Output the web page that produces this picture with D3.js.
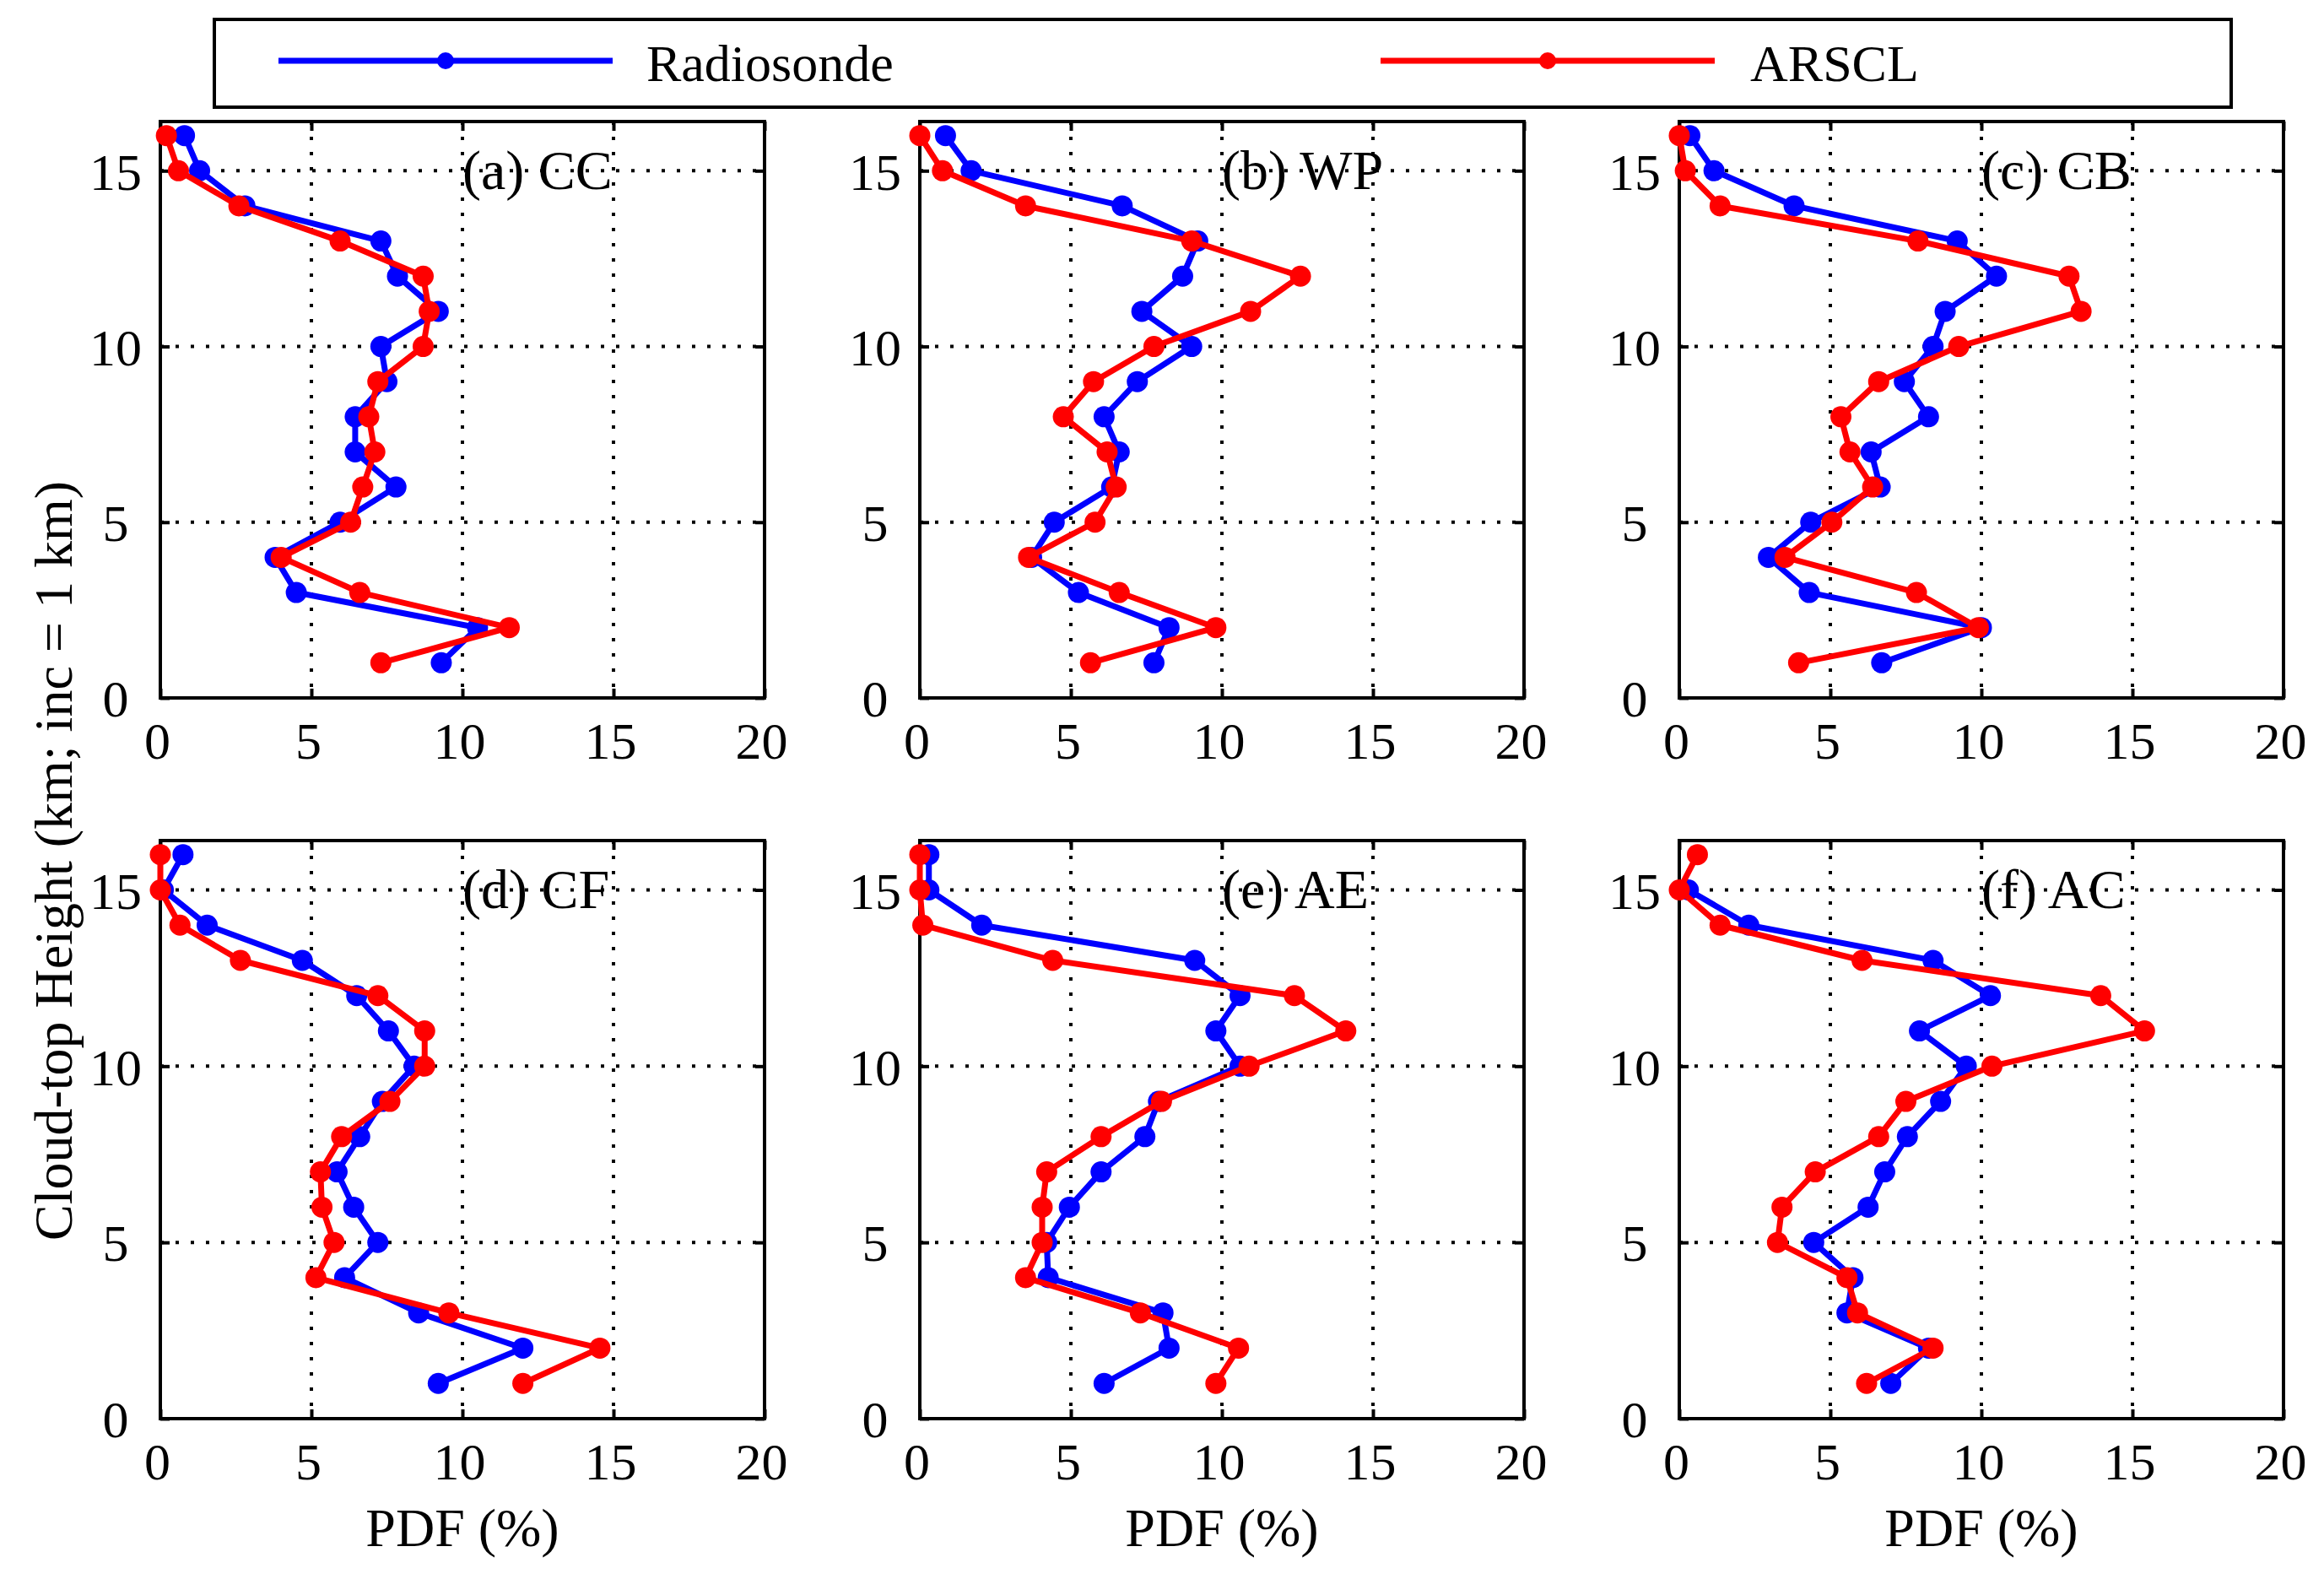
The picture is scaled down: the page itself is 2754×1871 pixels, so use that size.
<!DOCTYPE html>
<html><head><meta charset="utf-8">
<script src="https://cdn.jsdelivr.net/npm/d3@7"></script>
<style>
html,body{margin:0;padding:0;background:#fff;}
svg text{font-family:"Liberation Serif","Times New Roman",serif;fill:#000;}
</style></head>
<body>
<svg id="chart" width="2754" height="1871"></svg>
<script>
// ---- data ----
const heights = [16,15,14,13,12,11,10,9,8,7,6,5,4,3,2,1];
const panelTitles = ["(a) CC","(b) WP","(c) CB","(d) CF","(e) AE","(f) AC"];
const seriesNames = ["Radiosonde","ARSCL"];
const radiosondeA = [0.8,1.3,2.8,7.3,7.85,9.2,7.3,7.5,6.45,6.45,7.8,5.95,3.8,4.5,10.5,9.3];
const arsclA      = [0.2,0.6,2.6,5.95,8.7,8.9,8.7,7.2,6.9,7.1,6.7,6.3,4.0,6.6,11.55,7.3];
const radiosondeB = [0.85,1.7,6.7,9.2,8.7,7.35,9.0,7.2,6.1,6.6,6.35,4.45,3.7,5.25,8.25,7.75];
const arsclB      = [0.0,0.75,3.5,9.0,12.6,10.95,7.75,5.75,4.75,6.2,6.5,5.8,3.6,6.6,9.8,5.65];
const radiosondeC = [0.35,1.15,3.8,9.2,10.5,8.8,8.4,7.45,8.25,6.35,6.65,4.35,2.95,4.3,10.0,6.7];
const arsclC      = [0.0,0.2,1.35,7.9,12.9,13.3,9.25,6.6,5.35,5.65,6.4,5.05,3.5,7.85,9.9,3.95];
const radiosondeD = [0.75,0.1,1.55,4.7,6.5,7.55,8.4,7.35,6.6,5.85,6.4,7.2,6.1,8.55,12.0,9.2];
const arsclD      = [0.0,0.0,0.65,2.65,7.2,8.75,8.75,7.6,6.0,5.3,5.35,5.75,5.15,9.55,14.55,12.0];
const radiosondeE = [0.3,0.3,2.05,9.1,10.6,9.8,10.6,7.9,7.45,6.0,4.95,4.2,4.25,8.05,8.25,6.1];
const arsclE      = [0.0,0.0,0.1,4.4,12.4,14.1,10.9,8.0,6.0,4.2,4.05,4.05,3.5,7.3,10.55,9.8];
const radiosondeF = [null,0.3,2.3,8.4,10.3,7.95,9.5,8.65,7.55,6.8,6.25,4.45,5.75,5.55,8.25,7.0];
const arsclF      = [0.6,0.0,1.35,6.05,13.95,15.4,10.35,7.5,6.6,4.5,3.4,3.25,5.55,5.9,8.4,6.2];
const xTicks = [0,5,10,15,20];
const yTicks = [0,5,10,15];
const xLabel = "PDF (%)";
const yLabel = "Cloud-top Height (km; inc = 1 km)";

const radiosondeAll = [radiosondeA,radiosondeB,radiosondeC,radiosondeD,radiosondeE,radiosondeF];
const arsclAll = [arsclA,arsclB,arsclC,arsclD,arsclE,arsclF];
const colors = ["#0000ff","#ff0000"];

// ---- layout ----
const colX = [[190,906],[1090,1806],[1990,2706]];
const rowY = [[144,827],[996,1681]];

const svg = d3.select("#chart");

panelTitles.forEach((title,i)=>{
  const col = i%3, row = Math.floor(i/3);
  const x = d3.scaleLinear().domain([0,20]).range(colX[col]);
  const y = d3.scaleLinear().domain([0,16.4]).range([rowY[row][1],rowY[row][0]]);
  const g = svg.append("g");
  const [x0,x1] = x.range(), [y0,y1] = [y.range()[1], y.range()[0]];

  // grid
  g.selectAll(".gx").data(xTicks.filter(t=>t>0&&t<20)).join("line")
    .attr("x1",d=>x(d)).attr("x2",d=>x(d)).attr("y1",y0).attr("y2",y1)
    .attr("stroke","#000").attr("stroke-width",4).attr("stroke-dasharray","4,14");
  g.selectAll(".gy").data(yTicks.filter(t=>t>0)).join("line")
    .attr("x1",x0).attr("x2",x1).attr("y1",d=>y(d)).attr("y2",d=>y(d))
    .attr("stroke","#000").attr("stroke-width",4).attr("stroke-dasharray","4,14");

  // axes
  const ax = g.append("g").attr("transform",`translate(0,${y1})`)
    .call(d3.axisBottom(x).tickValues(xTicks).tickSizeInner(-11).tickSizeOuter(0).tickPadding(28));
  const axT = g.append("g").attr("transform",`translate(0,${y0})`)
    .call(d3.axisTop(x).tickValues(xTicks).tickSizeInner(-11).tickSizeOuter(0).tickFormat(""));
  const ay = g.append("g").attr("transform",`translate(${x0},0)`)
    .call(d3.axisLeft(y).tickValues(yTicks).tickSizeInner(-11).tickSizeOuter(0).tickPadding(53));
  const ayR = g.append("g").attr("transform",`translate(${x1},0)`)
    .call(d3.axisRight(y).tickValues(yTicks).tickSizeInner(-11).tickSizeOuter(0).tickFormat(""));
  [ax,axT,ay,ayR].forEach(a=>{
    a.select(".domain").remove();
    a.selectAll("line").attr("stroke","#000").attr("stroke-width",4);
  });
  ax.selectAll("text").attr("font-size",62).attr("dy","0.71em").attr("dx",-4)
    .style("font-family","Liberation Serif");
  ay.selectAll("text").attr("font-size",62).attr("text-anchor","middle").attr("dy","0.35em")
    .style("font-family","Liberation Serif");

  // frame
  g.append("rect").attr("x",x0).attr("y",y0).attr("width",x1-x0).attr("height",y1-y0)
    .attr("fill","none").attr("stroke","#000").attr("stroke-width",4);

  // series
  [radiosondeAll[i],arsclAll[i]].forEach((vals,s)=>{
    const pts = heights.map((h,k)=>({h,v:vals[k]})).filter(p=>p.v!==null);
    const line = d3.line().x(p=>x(p.v)).y(p=>y(p.h));
    g.append("path").datum(pts).attr("d",line).attr("fill","none")
      .attr("stroke",colors[s]).attr("stroke-width",7).attr("stroke-linejoin","round");
    g.selectAll(null).data(pts).join("circle")
      .attr("cx",p=>x(p.v)).attr("cy",p=>y(p.h)).attr("r",12.5).attr("fill",colors[s]);
  });

  // title
  g.append("text").attr("x",x(10)).attr("y",y(15)).attr("dy","0.33em")
    .attr("font-size",66).text(title);

  // x label on bottom row
  if(row===1){
    g.append("text").attr("x",(x0+x1)/2).attr("y",1810).attr("dy","0.35em")
      .attr("text-anchor","middle").attr("font-size",64).text(xLabel);
  }
});

// y label
svg.append("text").attr("transform","translate(63,1020) rotate(-90)")
  .attr("text-anchor","middle").attr("dy","0.35em").attr("font-size",64).text(yLabel);

// legend
const lg = svg.append("g");
lg.append("rect").attr("x",254).attr("y",23).attr("width",2390).attr("height",104)
  .attr("fill","#fff").attr("stroke","#000").attr("stroke-width",4);
const legendItems = [{x1:330,x2:726,tx:766},{x1:1636,x2:2032,tx:2074}];
legendItems.forEach((it,s)=>{
  lg.append("line").attr("x1",it.x1).attr("x2",it.x2).attr("y1",72).attr("y2",72)
    .attr("stroke",colors[s]).attr("stroke-width",7);
  lg.append("circle").attr("cx",(it.x1+it.x2)/2).attr("cy",72).attr("r",10).attr("fill",colors[s]);
  lg.append("text").attr("x",it.tx).attr("y",74).attr("dy","0.35em")
    .attr("font-size",62).text(seriesNames[s]);
});
</script>
</body></html>
